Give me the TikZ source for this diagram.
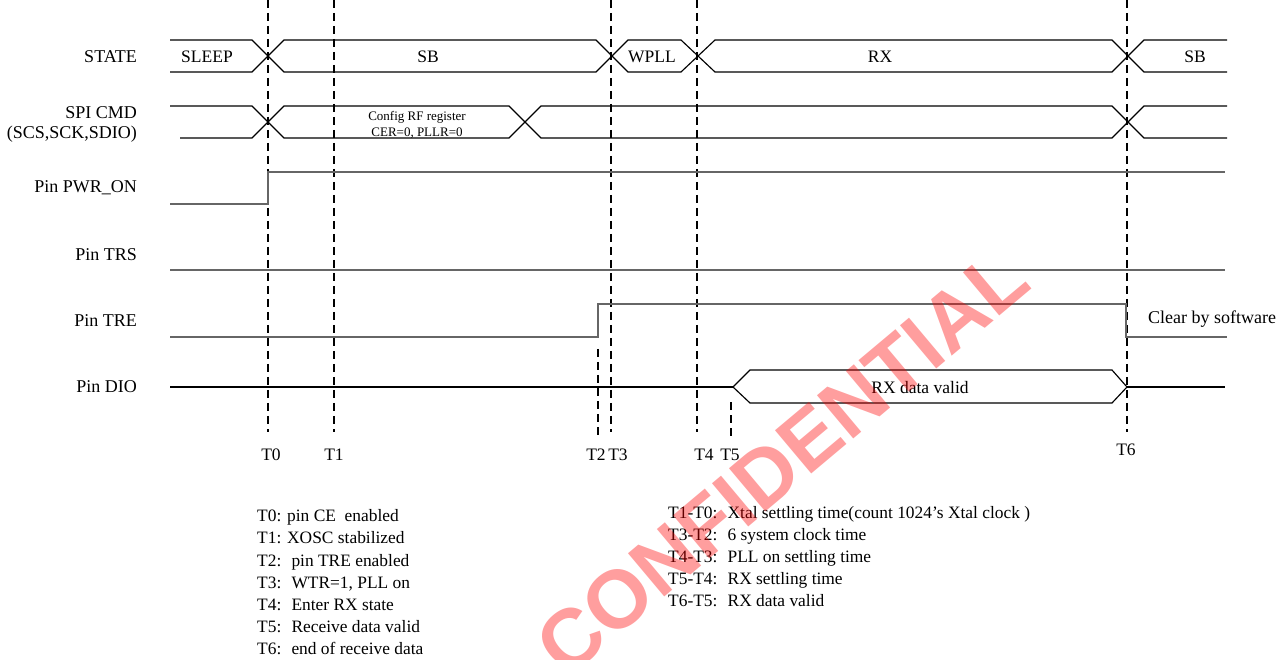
\documentclass[tikz,border=0pt]{standalone}
\usepackage{fontspec}
\setmainfont{Liberation Serif}
\newfontfamily\wmfont{Liberation Sans}
\begin{document}
\begin{tikzpicture}[x=1pt,y=-1pt,
  sig/.style={draw=black!60, line width=1.3pt},
  dsig/.style={draw=black, line width=1.1pt},
  bus/.style={draw=black, line width=1.15pt},
  tline/.style={draw=black, line width=1.3pt, dash pattern=on 8pt off 5pt},
  lbl/.style={font=\fontsize{18}{21}\selectfont, anchor=east, inner sep=0pt},
  blbl/.style={font=\fontsize{17.5}{20}\selectfont, inner sep=0pt},
  small/.style={font=\fontsize{13}{15}\selectfont, inner sep=0pt},
  tlbl/.style={font=\fontsize{17.5}{20}\selectfont, inner sep=0pt},
  note/.style={font=\fontsize{17.4}{20}\selectfont, anchor=base west, inner sep=0pt}]
\useasboundingbox (0,0) rectangle (1283,660);

% time markers
\coordinate (t0a) at (268,0);   \coordinate (t0b) at (268,432);
\coordinate (t1a) at (334,0);   \coordinate (t1b) at (334,432);
\coordinate (t2a) at (598,349); \coordinate (t2b) at (598,437);
\coordinate (t3a) at (611,0);   \coordinate (t3b) at (611,432);
\coordinate (t4a) at (697,0);   \coordinate (t4b) at (697,432);
\coordinate (t5a) at (731,402); \coordinate (t5b) at (731,437);
\coordinate (t6a) at (1127,0);  \coordinate (t6b) at (1127,432);
\foreach \t in {0,...,6} {\draw[tline] (t\t a) -- (t\t b);}

% signal names
\node[lbl] (nState) at (137,57) {STATE};
\node[lbl] (nSpi)   at (137,113) {SPI CMD};
\node[lbl] (nSpi2)  at (137,134) {(SCS,SCK,SDIO)};
\node[lbl] (nPwr)   at (137,188) {Pin PWR\_ON};
\node[lbl] (nTrs)   at (137,255) {Pin TRS};
\node[lbl] (nTre)   at (137,321) {Pin TRE};
\node[lbl] (nDio)   at (137,387) {Pin DIO};

% STATE bus
\draw[bus] (170,40) -- (252,40) -- (284,72) -- (596,72) -- (628,40) -- (681,40) -- (715,72) -- (1112,72) -- (1144,40) -- (1227,40);
\draw[bus] (170,72) -- (252,72) -- (284,40) -- (596,40) -- (628,72) -- (681,72) -- (715,40) -- (1112,40) -- (1144,72) -- (1227,72);
\node[blbl] (sSleep) at (207,57) {SLEEP};
\node[blbl] (sSb)    at (428,57) {SB};
\node[blbl] (sWpll)  at (652,57) {WPLL};
\node[blbl] (sRx)    at (880,57) {RX};
\node[blbl] (sSb2)   at (1195,57) {SB};

% SPI CMD bus
\draw[bus] (170,106) -- (252,106) -- (284,138) -- (509,138) -- (541,106) -- (1112,106) -- (1144,138) -- (1227,138);
\draw[bus] (180,138) -- (252,138) -- (284,106) -- (509,106) -- (541,138) -- (1112,138) -- (1144,106) -- (1227,106);
\node[small] (cfg1) at (417,117) {Config RF register};
\node[small] (cfg2) at (417,133) {CER=0, PLLR=0};

% PWR_ON
\draw[sig] (170,204) -- (268,204) -- (268,172) -- (1225,172);
% TRS
\draw[sig] (170,270) -- (1225,270);
% TRE
\draw[sig] (170,337) -- (598,337) -- (598,304) -- (1126,304) -- (1126,337) -- (1227,337);
\node[font=\fontsize{18}{21}\selectfont, anchor=west, inner sep=0pt] (clr) at (1148,319) {Clear by software};
% DIO
\draw[dsig] (170,387) -- (733,387);
\draw[bus] (733,387) -- (750,370) -- (1112,370) -- (1127,387) -- (1112,403) -- (750,403) -- cycle;
\draw[dsig] (1127,387) -- (1225,387);
\node[blbl] (dv) at (920,388) {RX data valid};

% time labels
\node[tlbl] (l0) at (271,455) {T0};
\node[tlbl] (l1) at (334,455) {T1};
\node[tlbl] (l2) at (596,455) {T2};
\node[tlbl] (l3) at (618,455) {T3};
\node[tlbl] (l4) at (704,455) {T4};
\node[tlbl] (l5) at (730,455) {T5};
\node[tlbl] (l6) at (1126,450) {T6};

% notes left
\node[note] (a0) at (257,521.7) {T0: pin CE~ enabled};
\node[note] (a1) at (257,543.9) {T1: XOSC stabilized};
\node[note] (a2) at (257,566.1) {T2:~ pin TRE enabled};
\node[note] (a3) at (257,588.3) {T3:~ WTR=1, PLL on};
\node[note] (a4) at (257,610.5) {T4:~ Enter RX state};
\node[note] (a5) at (257,632.7) {T5:~ Receive data valid};
\node[note] (a6) at (257,654.9) {T6:~ end of receive data};

% notes right
\node[note] (b0) at (668,518) {T1-T0:~ Xtal settling time(count 1024's Xtal clock )};
\node[note] (b1) at (668,540.2) {T3-T2:~ 6 system clock time};
\node[note] (b2) at (668,562.4) {T4-T3:~ PLL on settling time};
\node[note] (b3) at (668,584.6) {T5-T4:~ RX settling time};
\node[note] (b4) at (668,606.8) {T6-T5:~ RX data valid};

% watermark
\node[font=\wmfont\bfseries\fontsize{82}{82}\selectfont, text=red, text opacity=0.38, rotate=40, inner sep=0pt] (wm) at (782,462) {CONFIDENTIAL};
\end{tikzpicture}
\end{document}
